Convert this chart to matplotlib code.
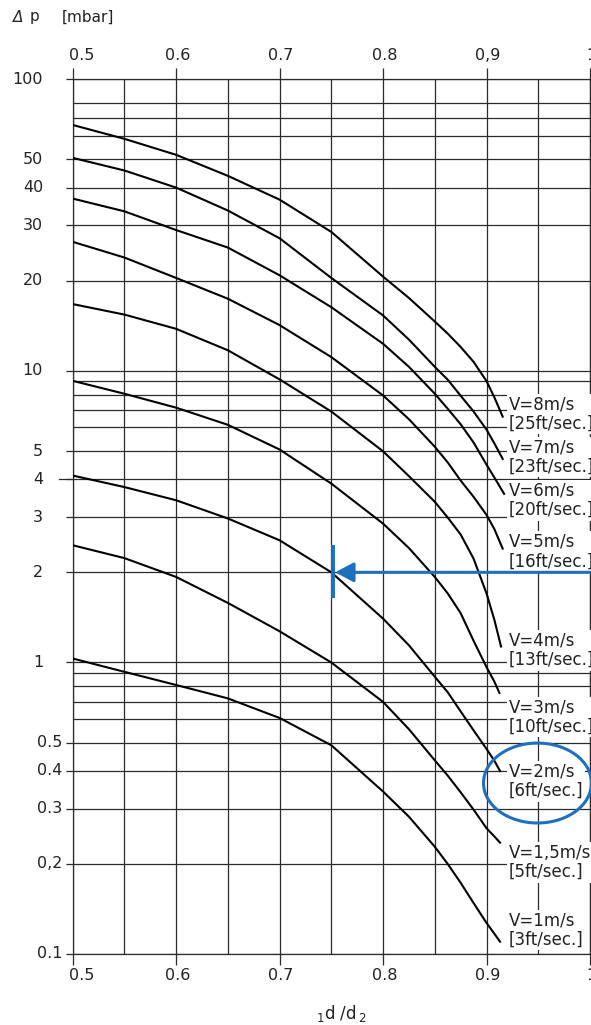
import numpy as np
import matplotlib
matplotlib.use("Agg")
import matplotlib.pyplot as plt
from matplotlib.ticker import FixedLocator, NullFormatter
from matplotlib.patches import Ellipse
import matplotlib.transforms as mtransforms

plt.rcParams['font.family'] = ['DejaVu Sans']
plt.rcParams['mathtext.fontset'] = 'dejavusans'

# ---------------- data ----------------
x_grid = [0.5, 0.55, 0.6, 0.65, 0.7, 0.75, 0.8, 0.825, 0.85, 0.8625, 0.875,
          0.8875, 0.9, 0.9075]
x_end = [0.9156, 0.9156, 0.917, 0.9156, 0.914, 0.9125, 0.913, 0.913, 0.913]

dp_v8 = [66, 58.6, 51.8, 43.9, 36.5, 28.6, 20.6, 17.5, 14.6, 13.3, 12.0, 10.7, 9.0, 7.83, 6.6]
dp_v7 = [50.6, 45.8, 40, 33.6, 27.3, 20.4, 15.3, 12.7, 10.3, 9.13, 7.93, 6.9, 5.9, 5.31, 4.7]
dp_v6 = [36.8, 33.4, 29.0, 25.5, 20.8, 16.3, 12.3, 10.3, 8.07, 7.07, 6.17, 5.34, 4.49, 4.06, 3.58]
dp_v5 = [26.6, 23.7, 20.4, 17.4, 14.2, 11.1, 7.95, 6.45, 5.17, 4.57, 3.96, 3.5, 3.05, 2.75, 2.38]
dp_v4 = [16.7, 15.4, 13.8, 11.7, 9.16, 6.9, 4.99, 4.1, 3.37, 2.99, 2.64, 2.21, 1.70, 1.39, 1.13]
dp_v3 = [9.03, 8.07, 7.14, 6.14, 5.06, 3.87, 2.86, 2.39, 1.93, 1.70, 1.46, 1.18, 0.953, 0.835, 0.755]
dp_v2 = [4.12, 3.77, 3.41, 2.97, 2.53, 2.0, 1.40, 1.14, 0.87, 0.76, 0.642, 0.55, 0.476, 0.434, 0.40]
dp_v15 = [2.44, 2.22, 1.93, 1.58, 1.27, 0.998, 0.698, 0.555, 0.435, 0.386, 0.34, 0.298, 0.26, 0.245, 0.234]
dp_v1 = [1.03, 0.909, 0.81, 0.72, 0.606, 0.49, 0.342, 0.283, 0.227, 0.2, 0.173, 0.148, 0.127, 0.117, 0.11]

series = [dp_v8, dp_v7, dp_v6, dp_v5, dp_v4, dp_v3, dp_v2, dp_v15, dp_v1]
curve_labels = ["V=8m/s\n[25ft/sec.]", "V=7m/s\n[23ft/sec.]", "V=6m/s\n[20ft/sec.]",
                "V=5m/s\n[16ft/sec.]", "V=4m/s\n[13ft/sec.]", "V=3m/s\n[10ft/sec.]",
                "V=2m/s\n[6ft/sec.]", "V=1,5m/s\n[5ft/sec.]", "V=1m/s\n[3ft/sec.]"]

y_major = [0.1, 0.2, 0.3, 0.4, 0.5, 1, 2, 3, 4, 5, 10, 20, 30, 40, 50, 100]
y_major_labels = ["0.1", "0,2", "0.3", "0.4", "0.5", "1", "2", "3", "4", "5",
                  "10", "20", "30", "40", "50", "100"]
y_minor = [0.6, 0.7, 0.8, 0.9, 6, 7, 8, 9, 60, 70, 80]
x_major = [0.5, 0.6, 0.7, 0.8, 0.9, 1.0]
x_bottom_labels = ["0.5", "0.6", "0.7", "0.8", "0.9", "1"]
x_top_labels = ["0.5", "0.6", "0.7", "0.8", "0,9", "1"]
x_minor = [0.55, 0.65, 0.75, 0.85, 0.95]

marker_point = (0.75, 2.0)

# ---------------- printed logarithmic paper spacing ----------------
# position of mantissa 1..10 inside one decade, as printed on the chart paper
MANT = np.log10([1, 2, 3, 4, 5, 6, 7, 8, 9, 10])
FRAC = np.array([0, 0.3086, 0.4979, 0.6276, 0.7243, 0.8053, 0.8654, 0.9174,
                 0.9640, 1.0])


def fwd(v):
    v = np.asarray(v, dtype=float)
    with np.errstate(divide='ignore', invalid='ignore'):
        lv = np.log10(np.where(v > 0, v, np.nan))
    d = np.floor(lv)
    return d + np.interp(lv - d, MANT, FRAC)


def inv(u):
    u = np.asarray(u, dtype=float)
    d = np.floor(u)
    return 10 ** (d + np.interp(u - d, FRAC, MANT))


# ---------------- styling ----------------
grid_c = '#2b2b2b'
txt_c = '#222222'
blue = '#1f6fbf'

fig = plt.figure(figsize=(5.91, 10.25), dpi=100)
ax = fig.add_axes([72.7 / 591, 71 / 1025, (590 - 72.7) / 591, 875 / 1025])
ax.set_yscale('function', functions=(fwd, inv))
ax.set_xlim(0.5, 1.0)
ax.set_ylim(0.1, 100)

ax.yaxis.set_major_locator(FixedLocator(y_major))
ax.yaxis.set_minor_locator(FixedLocator(y_minor))
ax.yaxis.set_major_formatter(NullFormatter())
ax.yaxis.set_minor_formatter(NullFormatter())
ax.xaxis.set_major_locator(FixedLocator(x_major))
ax.xaxis.set_minor_locator(FixedLocator(x_minor))
ax.xaxis.set_major_formatter(NullFormatter())

ax.grid(which='both', color=grid_c, lw=0.9)
ax.set_axisbelow(True)
ax.tick_params(axis='y', which='major', direction='out', length=5, width=0.9,
               color=grid_c, left=True, right=False)
ax.tick_params(axis='y', which='minor', length=0)
ax.tick_params(axis='x', which='major', direction='out', length=8, width=0.9,
               color=grid_c, top=True, bottom=True)
ax.tick_params(axis='x', which='minor', length=0)
for s in ax.spines.values():
    s.set_color(grid_c)
    s.set_linewidth(0.9)

# curves
for vals, xe in zip(series, x_end):
    ax.plot(x_grid + [xe], vals, color='black', lw=1.5, zorder=3,
            solid_joinstyle='round')

# y tick labels
ty = mtransforms.blended_transform_factory(ax.transAxes, ax.transData)
for v, lab in zip(y_major, y_major_labels):
    xx = -0.0574 if v >= 1 else -0.0195
    ax.text(xx, v, lab, ha='right', va='center', fontsize=11.5, transform=ty,
            color=txt_c)
# the longer tick at 4
ax.plot([-0.026, 0], [4, 4], transform=ty, color=grid_c, lw=0.9, clip_on=False)

# x tick labels
tx = mtransforms.blended_transform_factory(ax.transData, ax.transAxes)
for v, lb, lt in zip(x_major, x_bottom_labels, x_top_labels):
    xx = v + 0.0085 if v == 0.5 else v + 0.0015
    ax.text(xx, -0.0251, lb, ha='center', va='center', fontsize=11.5,
            transform=tx, color=txt_c, clip_on=False)
    ax.text(xx, 1.0263, lt, ha='center', va='center', fontsize=11.5,
            transform=tx, color=txt_c, clip_on=False)

# curve labels
label_y = [0.6171, 0.568, 0.5185, 0.4598, 0.3471, 0.2709, 0.1975, 0.1046, 0.0274]
for lab, yy in zip(curve_labels, label_y):
    ax.text(0.8434, yy, lab, ha='left', va='center', fontsize=12,
            linespacing=1.1, transform=ax.transAxes, color=txt_c, zorder=4,
            bbox=dict(boxstyle='square,pad=0.1', fc='white', ec='none'),
            clip_on=False)

# blue annotation: arrow, bar, ellipse
ax.annotate('', xy=(marker_point[0] + 0.0037, marker_point[1]),
            xytext=(1.02, marker_point[1]),
            arrowprops=dict(arrowstyle='-|>,head_length=0.75,head_width=0.4',
                            color=blue, lw=2.2, mutation_scale=15,
                            shrinkA=0, shrinkB=0),
            annotation_clip=False, zorder=5)
ax.plot([marker_point[0] + 0.0015] * 2, [0.4065, 0.4674], transform=tx,
        color=blue, lw=2.8, solid_capstyle='butt', clip_on=False, zorder=5)
ax.add_patch(Ellipse((0.8985, 0.1954), 0.2088, 0.0914, transform=ax.transAxes,
                     fill=False, ec=blue, lw=2.2, clip_on=False, zorder=5))

# axis titles
hy = 1 - 17 / 1025
fig.text(13 / 591, hy, "Δ", fontsize=11, style='italic', ha='left', va='center',
         color=txt_c)
fig.text(30 / 591, hy, "p", fontsize=11, ha='left', va='center', color=txt_c)
fig.text(62 / 591, hy, "[mbar]", fontsize=11, ha='left', va='center', color=txt_c)
fig.text(316 / 591, 12 / 1025, r"$_1$d /d$\,_2$", fontsize=12, ha='left',
         va='center', color=txt_c)

fig.savefig("out.png", dpi=100)
